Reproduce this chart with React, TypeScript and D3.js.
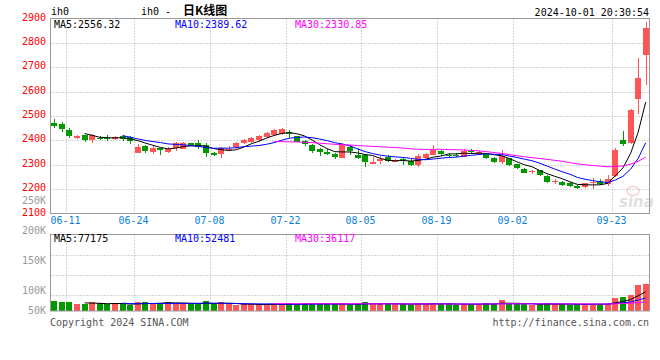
import React from "react";
import * as d3 from "d3";

const dates = [
  "06-07","06-11","06-12","06-13","06-14","06-17","06-18","06-19","06-20","06-21","06-24","06-25","06-26","06-27","06-28",
  "07-01","07-02","07-03","07-04","07-05","07-08","07-09","07-10","07-11","07-12","07-15","07-16","07-17","07-18","07-19","07-22","07-23","07-24","07-25","07-26","07-29","07-30","07-31",
  "08-01","08-02","08-05","08-06","08-07","08-08","08-09","08-12","08-13","08-14","08-15","08-16","08-19","08-20","08-21","08-22","08-23","08-26","08-27","08-28","08-29","08-30",
  "09-02","09-03","09-04","09-05","09-06","09-09","09-10","09-11","09-12","09-13","09-18","09-19","09-20","09-23","09-24","09-25","09-26","09-27","09-30",
];

const opens = [
  2472,2466,2441,2409,2421,2402,2409,2409,2405,2416,
  2413,2349,2376,2353,2369,2353,2369,2367,2390,2390,
  2380,2349,2342,2362,2371,2390,2394,2401,2414,2421,
  2425,2435,2418,2398,2380,2363,2353,2344,2328,2372,
  2340,2342,2304,2312,2332,2312,2322,2316,2298,2328,
  2339,2358,2341,2342,2334,2355,2344,2346,2328,2310,
  2326,2302,2283,2270,2278,2255,2230,2230,2225,2214,
  2207,2226,2232,2220,2256,2400,2387,2568,2748,
];
const highs = [
  2487,2476,2449,2421,2424,2426,2417,2421,2417,2424,
  2417,2387,2383,2376,2370,2373,2394,2394,2391,2403,
  2390,2352,2373,2376,2394,2407,2414,2421,2435,2445,
  2449,2442,2420,2403,2384,2369,2363,2349,2384,2380,
  2367,2346,2330,2337,2340,2325,2327,2322,2346,2349,
  2380,2362,2350,2347,2365,2365,2357,2350,2332,2360,
  2328,2304,2286,2280,2280,2257,2240,2232,2228,2216,
  2227,2245,2240,2258,2368,2438,2530,2737,2885,
];
const lows = [
  2450,2435,2408,2405,2394,2390,2401,2398,2401,2397,
  2384,2349,2349,2346,2339,2349,2357,2363,2376,2365,
  2332,2335,2326,2358,2366,2386,2391,2398,2411,2418,
  2422,2408,2393,2376,2349,2337,2339,2322,2328,2340,
  2325,2291,2302,2304,2310,2310,2300,2296,2291,2326,
  2339,2338,2330,2333,2330,2345,2341,2324,2308,2303,
  2294,2284,2265,2262,2255,2224,2222,2213,2208,2202,
  2203,2200,2215,2212,2248,2377,2385,2510,2626,
];
const closes = [
  2459,2446,2417,2417,2402,2421,2407,2407,2415,2405,
  2395,2373,2357,2369,2361,2365,2388,2391,2381,2372,
  2349,2340,2367,2364,2388,2403,2410,2417,2430,2441,
  2445,2426,2394,2385,2357,2349,2344,2333,2380,2356,
  2329,2312,2312,2322,2315,2320,2320,2298,2335,2343,
  2360,2344,2339,2337,2358,2352,2353,2330,2313,2336,
  2296,2287,2268,2273,2258,2231,2233,2217,2212,2204,
  2224,2229,2220,2241,2362,2384,2523,2656,2860,
];
const volumes = [
  39000,35000,35000,27000,27000,35000,31000,27000,31000,27000,
  23000,35000,35000,31000,31000,35000,31000,31000,27000,27000,
  39000,27000,35000,27000,23000,27000,27000,27000,27000,27000,
  23000,31000,27000,31000,31000,27000,27000,27000,31000,23000,
  27000,35000,33000,27000,29000,27000,27000,25000,33000,27000,
  31000,29000,27000,25000,27000,27000,29000,31000,27000,43000,
  27000,27000,27000,25000,27000,31000,27000,27000,25000,27000,
  28000,29000,27000,28000,54000,55000,65000,104000,108000,
];

const tickDates = ["06-11","06-24","07-08","07-22","08-05","08-19","09-02","09-23"];
const priceTicks = [2100,2200,2300,2400,2500,2600,2700,2800,2900];
const priceGrid = [2200,2300,2400,2500,2600,2700,2800];
const volTickLabels = ["250K","200K","150K","100K","50K"];
const volTickValues = [250000,200000,150000,100000,50000];

const priceMaLabels = ["MA5:2556.32","MA10:2389.62","MA30:2330.85"];
const volMaLabels = ["MA5:77175","MA10:52481","MA30:36117"];
const maPeriods = [5,10,30];
const maColors = ["#000000","#0000ff","#ff00ff"];

const UP = "#ff5555";
const DOWN = "#009900";
const MONO = "'DejaVu Sans Mono', monospace";

function movingAvg(arr: number[], n: number): (number | null)[] {
  return arr.map((_, i) => (i < n - 1 ? null : d3.mean(arr.slice(i - n + 1, i + 1)) as number));
}

export default function App() {
  const W = 660, H = 360;
  const left = 50.5, right = 649.5;
  const pTop = 18.5, pBot = 213.5;
  const vTop = 234.5, vBot = 311;

  const x = d3.scaleBand<string>().domain(dates).range([left, right]).paddingInner(0.25).paddingOuter(0.125);
  const step = x.step();
  const bw = Math.round(x.bandwidth());
  const cx = (i: number) => (x(dates[i]) as number) + x.bandwidth() / 2;

  const y = d3.scaleLinear().domain([2100, 2900]).range([pBot, pTop]);
  const yv = d3.scaleLinear().domain([0, 308000]).range([vBot, vTop]);
  const yvLabel = d3.scaleLinear().domain(volTickValues).range([204, 233.5, 264, 294, 314.3]);

  const isUp = (i: number) => closes[i] >= opens[i];

  const priceMAs = maPeriods.map((n) => movingAvg(closes, n));
  const volMAs = maPeriods.map((n) => movingAvg(volumes, n));

  const lineP = d3.line<number | null>()
    .defined((d) => d != null)
    .x((_, i) => cx(i))
    .y((d) => y(d as number));
  const lineV = d3.line<number | null>()
    .defined((d) => d != null)
    .x((_, i) => cx(i))
    .y((d) => yv(d as number));

  const gridXs = tickDates.map((d) => Math.round((x(d) as number) + x.bandwidth() / 2 + step / 2) + 0.5);
  const maLabelX = [54, 175, 295];

  return (
    <svg width={W} height={H} style={{ position: "absolute", left: 0, top: 0, background: "#fff" }}>
      <rect x={0} y={0} width={W} height={H} fill="#fff" />
      {/* header */}
      <text x={51} y={15} fontFamily={MONO} fontSize={10} fill="#000">ih0</text>
      <text x={141} y={15} fontFamily={MONO} fontSize={10} fill="#000">
        ih0 -
        <tspan dx={12} fontFamily="'Noto Sans CJK SC', sans-serif" fontWeight="bold" fontSize={12}>日K线图</tspan>
      </text>
      <text x={649} y={15.5} fontFamily={MONO} fontSize={10} fill="#000" textAnchor="end">2024-10-01 20:30:54</text>

      {/* price grid */}
      {priceGrid.map((v) => (
        <line key={"pg" + v} x1={left} x2={right} y1={Math.round(y(v)) + 0.5} y2={Math.round(y(v)) + 0.5}
          stroke="#aaa" strokeDasharray="1,2" />
      ))}
      {gridXs.map((gx, k) => (
        <g key={"vg" + k}>
          <line x1={gx} x2={gx} y1={pTop} y2={pBot} stroke="#aaa" strokeDasharray="1,2" />
          <line x1={gx} x2={gx} y1={vTop} y2={vBot} stroke="#aaa" strokeDasharray="1,2" />
        </g>
      ))}
      {/* volume horizontal grid */}
      {[1, 2, 3].map((k) => {
        const gy = Math.round(vTop + ((vBot + 4 - vTop) * k) / 4) + 0.5;
        return <line key={"vh" + k} x1={left} x2={right} y1={gy} y2={gy} stroke="#aaa" strokeDasharray="1,2" />;
      })}

      {/* price axis labels */}
      {priceTicks.map((v) => (
        <text key={"pt" + v} x={46} y={y(v) + 2} fontFamily={MONO} fontSize={10} fill="#ff0000" textAnchor="end">{v}</text>
      ))}
      {volTickLabels.map((t, k) => (
        <text key={"vt" + t} x={46} y={yvLabel(volTickValues[k])} fontFamily={MONO} fontSize={10} fill="#999" textAnchor="end">{t}</text>
      ))}
      {tickDates.map((d, k) => (
        <text key={"xt" + d} x={gridXs[k] - 1} y={224} fontFamily={MONO} fontSize={10} fill="#0a7fd8" textAnchor="middle">{d}</text>
      ))}

      {/* watermark */}
      <g opacity={0.3}>
        <ellipse cx={633} cy={191} rx={6} ry={4.5} fill="none" stroke="#e66" strokeWidth={1.5} />
        <text x={619} y={207} fontFamily="'DejaVu Sans', sans-serif" fontStyle="italic" fontWeight="bold" fontSize={15} fill="#999">sina</text>
      </g>

      {/* candles */}
      {dates.map((d, i) => {
        const c = Math.round(cx(i)) + 0.5;
        const col = isUp(i) ? UP : DOWN;
        const yo = y(opens[i]), yc = y(closes[i]);
        const top = Math.round(Math.min(yo, yc));
        const h = Math.max(1, Math.round(Math.abs(yo - yc)));
        return (
          <g key={"c" + d}>
            <line x1={c} x2={c} y1={Math.round(y(highs[i]))} y2={Math.round(y(lows[i]))} stroke={col} />
            <rect x={Math.round(cx(i) - bw / 2)} y={top} width={bw} height={h} fill={col} />
          </g>
        );
      })}

      {/* price MAs */}
      {priceMAs.map((m, k) => (
        <path key={"pm" + k} d={lineP(m) || ""} fill="none" stroke={maColors[k]} strokeWidth={1} />
      ))}

      {/* volume bars */}
      {dates.map((d, i) => (
        <rect key={"v" + d} x={Math.round(cx(i) - bw / 2)} y={Math.round(yv(volumes[i]))} width={bw}
          height={vBot - Math.round(yv(volumes[i]))} fill={isUp(i) ? UP : DOWN} />
      ))}
      {volMAs.map((m, k) => (
        <path key={"vm" + k} d={lineV(m) || ""} fill="none" stroke={maColors[k]} strokeWidth={1} />
      ))}

      {/* borders */}
      <rect x={left} y={pTop} width={right - left} height={pBot - pTop} fill="none" stroke="#999" />
      <rect x={left} y={vTop} width={right - left} height={vBot - vTop} fill="none" stroke="#999" />

      {/* MA labels */}
      {priceMaLabels.map((t, k) => (
        <text key={"pl" + k} x={maLabelX[k]} y={27.5} fontFamily={MONO} fontSize={10} fill={maColors[k]}>{t}</text>
      ))}
      {volMaLabels.map((t, k) => (
        <text key={"vl" + k} x={maLabelX[k]} y={242} fontFamily={MONO} fontSize={10} fill={maColors[k]}>{t}</text>
      ))}

      {/* footer */}
      <text x={50} y={325.5} fontFamily={MONO} fontSize={10} fill="#555">Copyright 2024 SINA.COM</text>
      <text x={649} y={325.5} fontFamily={MONO} fontSize={10} fill="#555" textAnchor="end">http://finance.sina.com.cn</text>
    </svg>
  );
}
